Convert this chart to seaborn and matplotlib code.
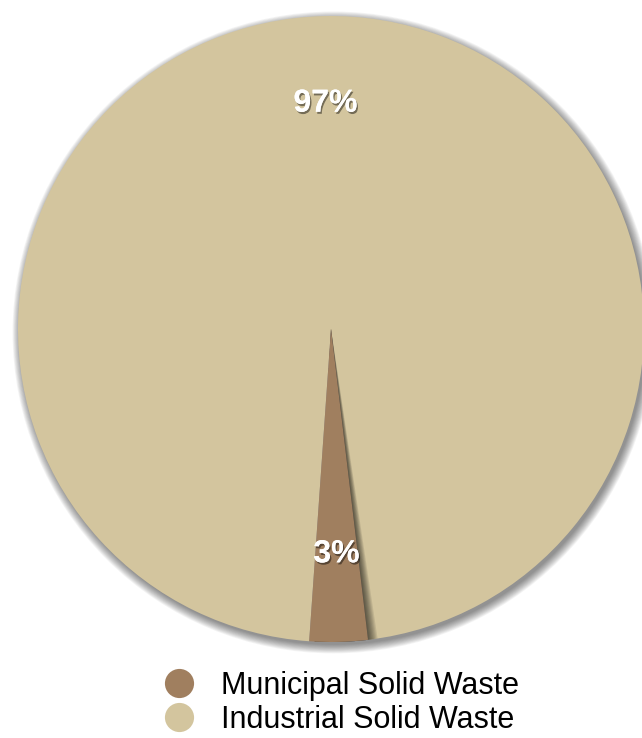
import matplotlib
matplotlib.use("Agg")
import matplotlib.pyplot as plt
import matplotlib.patheffects as pe
from matplotlib.patches import Circle, Wedge
from matplotlib.lines import Line2D
import seaborn as sns

categories = ["Municipal Solid Waste", "Industrial Solid Waste"]
shares = [3, 97]
colors = ["#a07f5f", "#d3c59e"]

sns.set_theme(style="white")
plt.rcParams['font.family'] = ['Liberation Sans', 'DejaVu Sans']

W, H = 642, 738
fig = plt.figure(figsize=(W / 100, H / 100), dpi=100)
cx, cy, r = 331, 329, 313
ax = fig.add_axes([(cx - r) / W, (H - cy - r) / H, 2 * r / W, 2 * r / H])

start = 266
wedges, texts, autotexts = ax.pie(
    shares, colors=colors, startangle=start, counterclock=True,
    autopct="%d%%", pctdistance=0.72, radius=1,
    wedgeprops=dict(linewidth=0),
    textprops=dict(color="white", fontsize=23, fontweight="bold"))

# outer soft shadow
for k in range(12):
    c = Circle((0.008, -0.011), 0.998 + k * 0.0025, facecolor="black",
               alpha=0.045, linewidth=0, zorder=0.5, clip_on=False)
    ax.add_patch(c)
for w in wedges:
    w.set_zorder(1)
    w.set_clip_on(False)

# shadow cast by the small wedge onto the large one
t1 = start
t2 = start + 360 * shares[0] / sum(shares)
for k in range(8):
    sh = Wedge((0, 0), 1.0, t1 + 1.0, t2 + 0.22 * (k + 1), facecolor="black",
               alpha=0.09, linewidth=0, zorder=1.5, clip_on=False)
    ax.add_patch(sh)
wedges[0].set_zorder(2)

for t in autotexts:
    t.set_zorder(3)
    t.set_path_effects([pe.withSimplePatchShadow(offset=(1, -1.5), shadow_rgbFace="black", alpha=0.45),
                        pe.Normal()])

ax.set_xlim(-1, 1)
ax.set_ylim(-1, 1)
ax.set_aspect("equal")
ax.axis("off")

handles = [Line2D([0], [0], marker="o", linestyle="", markersize=21,
                  markerfacecolor=c, markeredgewidth=0) for c in colors]
leg = fig.legend(handles, categories, loc="upper left", bbox_to_anchor=(164 / W, 1 - 671 / H),
                 frameon=False, fontsize=22, handletextpad=0.85, labelspacing=0.12,
                 borderpad=0, borderaxespad=0, handlelength=1.0)
for t in leg.get_texts():
    t.set_color("black")

fig.savefig("out.png", dpi=100)
